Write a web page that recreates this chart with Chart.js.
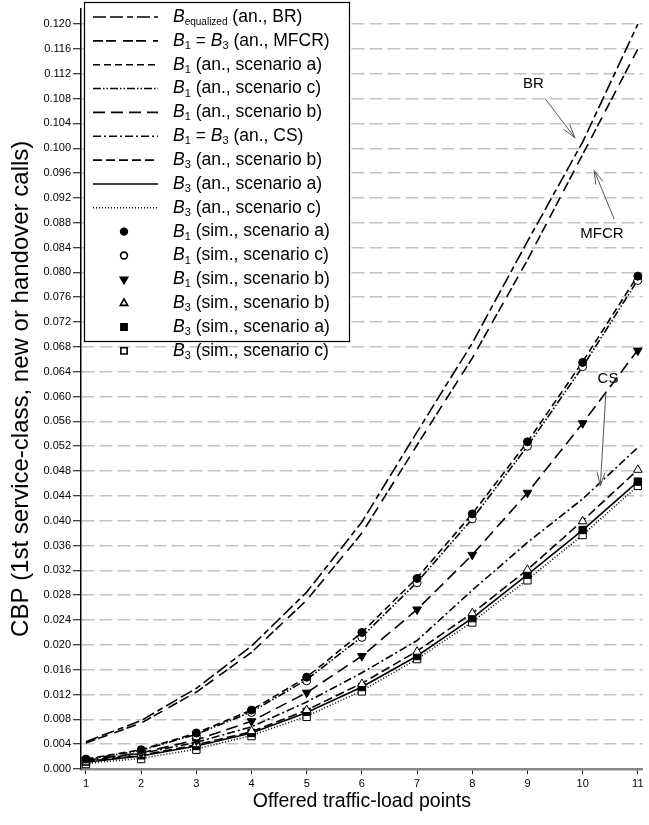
<!DOCTYPE html>
<html>
<head>
<meta charset="utf-8">
<title>CBP vs offered traffic-load points</title>
<script src="https://cdn.jsdelivr.net/npm/chart.js@4.4.1/dist/chart.umd.min.js"></script>
<style>
  html, body { margin: 0; padding: 0; background: #fff; }
  #wrap { width: 649px; height: 825px; position: relative; }
</style>
</head>
<body>
<div id="wrap"><canvas id="cbpChart"></canvas></div>
<script>
// ==========================================
// DATA
// ==========================================

const loadPoints = [1, 2, 3, 4, 5, 6, 7, 8, 9, 10, 11];
const yTickValues = [0.000, 0.004, 0.008, 0.012, 0.016, 0.020, 0.024, 0.028, 0.032, 0.036,
                     0.040, 0.044, 0.048, 0.052, 0.056, 0.060, 0.064, 0.068, 0.072, 0.076,
                     0.080, 0.084, 0.088, 0.092, 0.096, 0.100, 0.104, 0.108, 0.112, 0.116, 0.120];

// analytical curves
const bEqualizedBR = [0.0044, 0.0078, 0.0130, 0.0198, 0.0285, 0.0398, 0.0543, 0.0686, 0.0850, 0.1010, 0.1200];
const b1b3MFCR     = [0.0042, 0.0074, 0.0124, 0.0188, 0.0272, 0.0380, 0.0522, 0.0662, 0.0820, 0.0990, 0.1160];
const b1AnA        = [0.0016, 0.0031, 0.0058, 0.0095, 0.0148, 0.0220, 0.0308, 0.0411, 0.0527, 0.0656, 0.0795];
const b1AnC        = [0.0015, 0.0030, 0.0056, 0.0092, 0.0144, 0.0213, 0.0301, 0.0403, 0.0520, 0.0648, 0.0788];
const b1AnB        = [0.0014, 0.0026, 0.0047, 0.0077, 0.0123, 0.0182, 0.0257, 0.0345, 0.0445, 0.0557, 0.0675];
const b1b3CS       = [0.0013, 0.0025, 0.0043, 0.0068, 0.0108, 0.0155, 0.0207, 0.0288, 0.0365, 0.0435, 0.0518];
const b3AnB        = [0.0012, 0.0022, 0.0039, 0.0060, 0.0095, 0.0138, 0.0190, 0.0251, 0.0321, 0.0400, 0.0482];
const b3AnA        = [0.0011, 0.0021, 0.0037, 0.0058, 0.0091, 0.0132, 0.0182, 0.0243, 0.0313, 0.0385, 0.0463];
const b3AnC        = [0.0009, 0.0017, 0.0032, 0.0054, 0.0085, 0.0126, 0.0177, 0.0237, 0.0305, 0.0377, 0.0456];

// simulation points
const b1SimA = [0.0016, 0.0031, 0.0058, 0.0095, 0.0148, 0.0220, 0.0307, 0.0411, 0.0527, 0.0655, 0.0794];
const b1SimC = [0.0013, 0.0029, 0.0053, 0.0091, 0.0142, 0.0212, 0.0300, 0.0403, 0.0520, 0.0648, 0.0787];
const b1SimB = [0.0014, 0.0025, 0.0046, 0.0077, 0.0123, 0.0182, 0.0257, 0.0345, 0.0445, 0.0557, 0.0674];
const b3SimB = [0.0012, 0.0023, 0.0040, 0.0061, 0.0095, 0.0137, 0.0189, 0.0251, 0.0321, 0.0399, 0.0482];
const b3SimA = [0.0012, 0.0022, 0.0037, 0.0058, 0.0092, 0.0132, 0.0182, 0.0243, 0.0313, 0.0385, 0.0463];
const b3SimC = [0.0008, 0.0016, 0.0031, 0.0053, 0.0084, 0.0125, 0.0177, 0.0236, 0.0304, 0.0377, 0.0456];

const FONT = 'Arial, "Liberation Sans", sans-serif';

function pts(values) {
    return loadPoints.map((x, i) => ({ x: x, y: values[i] }));
}

// legend text pieces: [text, kind]  kind: 'i' italic, 's' subscript, '' normal
function lineSet(label, parts, values, dash) {
    return {
        label: label, parts: parts, data: pts(values),
        borderColor: '#000', borderWidth: 1.6, borderDash: dash,
        pointRadius: 0, fill: false, tension: 0, order: 2
    };
}

function markerSet(label, parts, values, style, filled, radius, rotation) {
    return {
        label: label, parts: parts, data: pts(values), showLine: false,
        pointStyle: style, pointRadius: radius, pointRotation: rotation || 0,
        pointBackgroundColor: filled ? '#000' : '#fff',
        pointBorderColor: '#000', pointBorderWidth: 1, order: 1
    };
}

const datasets = [
    lineSet('B equalized (an., BR)', [['B', 'i'], ['equalized', 's'], [' (an., BR)', '']], bEqualizedBR, [13, 4, 13, 4, 6, 4]),
    lineSet('B1 = B3 (an., MFCR)', [['B', 'i'], ['1', 's'], [' = ', ''], ['B', 'i'], ['3', 's'], [' (an., MFCR)', '']], b1b3MFCR, [10, 3, 10, 7]),
    lineSet('B1 (an., scenario a)', [['B', 'i'], ['1', 's'], [' (an., scenario a)', '']], b1AnA, [7, 4]),
    lineSet('B1 (an., scenario c)', [['B', 'i'], ['1', 's'], [' (an., scenario c)', '']], b1AnC, [8, 2, 1.5, 2, 1.5, 2]),
    lineSet('B1 (an., scenario b)', [['B', 'i'], ['1', 's'], [' (an., scenario b)', '']], b1AnB, [12, 6]),
    lineSet('B1 = B3 (an., CS)', [['B', 'i'], ['1', 's'], [' = ', ''], ['B', 'i'], ['3', 's'], [' (an., CS)', '']], b1b3CS, [8, 3, 2, 3]),
    lineSet('B3 (an., scenario b)', [['B', 'i'], ['3', 's'], [' (an., scenario b)', '']], b3AnB, [9, 4]),
    lineSet('B3 (an., scenario a)', [['B', 'i'], ['3', 's'], [' (an., scenario a)', '']], b3AnA, []),
    lineSet('B3 (an., scenario c)', [['B', 'i'], ['3', 's'], [' (an., scenario c)', '']], b3AnC, [1, 2]),
    markerSet('B1 (sim., scenario a)', [['B', 'i'], ['1', 's'], [' (sim., scenario a)', '']], b1SimA, 'circle', true, 4),
    markerSet('B1 (sim., scenario c)', [['B', 'i'], ['1', 's'], [' (sim., scenario c)', '']], b1SimC, 'circle', false, 4),
    markerSet('B1 (sim., scenario b)', [['B', 'i'], ['1', 's'], [' (sim., scenario b)', '']], b1SimB, 'triangle', true, 5, 180),
    markerSet('B3 (sim., scenario b)', [['B', 'i'], ['3', 's'], [' (sim., scenario b)', '']], b3SimB, 'triangle', false, 5),
    markerSet('B3 (sim., scenario a)', [['B', 'i'], ['3', 's'], [' (sim., scenario a)', '']], b3SimA, 'rect', true, 5.2),
    markerSet('B3 (sim., scenario c)', [['B', 'i'], ['3', 's'], [' (sim., scenario c)', '']], b3SimC, 'rect', false, 5.2)
];

// ==========================================
// PLUGINS: boxed legend + arrow labels
// ==========================================

function drawParts(ctx, parts, x, y) {
    parts.forEach(([txt, kind]) => {
        if (kind === 's') {
            ctx.font = (txt.length > 2 ? '10px ' : '11px ') + FONT;
            ctx.fillText(txt, x, y + 5);
        } else {
            ctx.font = (kind === 'i' ? 'italic ' : '') + '17.5px ' + FONT;
            ctx.fillText(txt, x, y);
        }
        x += ctx.measureText(txt).width;
    });
}

const boxLegend = {
    id: 'boxLegend',
    afterDraw(chart) {
        const ctx = chart.ctx;
        const left = chart.chartArea.left + 3;
        const top = 2, width = 265, height = 339;
        ctx.save();
        ctx.fillStyle = '#fff';
        ctx.fillRect(left, top, width, height);
        ctx.strokeStyle = '#000';
        ctx.lineWidth = 1.2;
        ctx.strokeRect(left + 0.5, top + 0.5, width, height);

        chart.data.datasets.forEach((ds, i) => {
            const y = 17 + i * 23.85;
            ctx.strokeStyle = '#000';
            if (ds.showLine === false) {
                ctx.fillStyle = ds.pointBackgroundColor;
                Chart.helpers.drawPoint(ctx, {
                    pointStyle: ds.pointStyle, radius: ds.pointRadius * 0.85,
                    rotation: ds.pointRotation, borderWidth: 1
                }, left + 40, y);
            } else {
                ctx.lineWidth = ds.borderWidth;
                ctx.setLineDash(ds.borderDash);
                ctx.beginPath();
                ctx.moveTo(left + 9, y);
                ctx.lineTo(left + 74, y);
                ctx.stroke();
                ctx.setLineDash([]);
            }
            ctx.fillStyle = '#000';
            ctx.textBaseline = 'middle';
            drawParts(ctx, ds.parts, left + 89, y);
        });
        ctx.restore();
    }
};

// label text, text anchor, arrow tail and arrow tip in data units
const arrowNotes = [
    { text: 'BR',   at: [9.11, 0.1104], from: [9.32, 0.1080], to: [9.86, 0.1017] },
    { text: 'MFCR', at: [10.35, 0.0862], from: [10.57, 0.0886], to: [10.21, 0.0964] },
    { text: 'CS',   at: [10.46, 0.0629], from: [10.42, 0.0605], to: [10.32, 0.0456] }
];

const arrowLabels = {
    id: 'arrowLabels',
    afterDatasetsDraw(chart) {
        const ctx = chart.ctx;
        const xs = chart.scales.x, ys = chart.scales.y;
        ctx.save();
        arrowNotes.forEach(n => {
            ctx.fillStyle = '#000';
            ctx.font = '15px ' + FONT;
            ctx.textAlign = 'center';
            ctx.textBaseline = 'middle';
            ctx.fillText(n.text, xs.getPixelForValue(n.at[0]), ys.getPixelForValue(n.at[1]));

            const x1 = xs.getPixelForValue(n.from[0]), y1 = ys.getPixelForValue(n.from[1]);
            const x2 = xs.getPixelForValue(n.to[0]), y2 = ys.getPixelForValue(n.to[1]);
            const ang = Math.atan2(y2 - y1, x2 - x1);
            ctx.strokeStyle = '#555';
            ctx.lineWidth = 1;
            ctx.beginPath();
            ctx.moveTo(x1, y1);
            ctx.lineTo(x2, y2);
            [-0.28, 0.28].forEach(d => {
                ctx.moveTo(x2, y2);
                ctx.lineTo(x2 - 14 * Math.cos(ang + d), y2 - 14 * Math.sin(ang + d));
            });
            ctx.stroke();
        });
        ctx.restore();
    }
};

// ==========================================
// CHART
// ==========================================

const ctx = document.getElementById('cbpChart').getContext('2d');
const cbpChart = new Chart(ctx, {
    type: 'line',
    data: { datasets: datasets },
    plugins: [arrowLabels, boxLegend],
    options: {
        responsive: true,
        maintainAspectRatio: false,
        animation: false,
        layout: { padding: { top: 1, right: 3, left: 0, bottom: 0 } },
        plugins: { legend: { display: false }, tooltip: { enabled: false } },
        scales: {
            x: {
                type: 'linear',
                min: 0.91,
                max: 11.09,
                afterBuildTicks: (scale) => { scale.ticks = loadPoints.map(v => ({ value: v })); },
                afterFit: (scale) => { scale.height = 56; },
                grid: { drawOnChartArea: false, drawTicks: true, tickLength: 5, tickColor: '#000', tickWidth: 1 },
                border: { color: '#888', width: 2.5 },
                ticks: { color: '#000', font: { family: FONT, size: 11 }, padding: 3, maxRotation: 0 },
                title: {
                    display: true, text: 'Offered traffic-load points', color: '#000',
                    font: { family: FONT, size: 19.5 }, padding: { top: 0, bottom: 12 }
                }
            },
            y: {
                min: 0,
                max: 0.1225,
                afterBuildTicks: (scale) => { scale.ticks = yTickValues.map(v => ({ value: v })); },
                afterFit: (scale) => { scale.width = 81; },
                grid: { color: '#c4c4c4', lineWidth: 1.5, tickLength: 8, tickColor: '#000', tickWidth: 1 },
                border: { color: '#000', width: 1.5, dash: [13, 5] },
                ticks: {
                    color: '#000', font: { family: FONT, size: 11 }, padding: 2,
                    callback: (v) => v.toFixed(3)
                },
                title: {
                    display: true, text: 'CBP (1st service-class, new or handover calls)', color: '#000',
                    font: { family: FONT, size: 24 }, padding: { top: 7, bottom: 0 }
                }
            }
        }
    }
});
</script>
</body>
</html>
